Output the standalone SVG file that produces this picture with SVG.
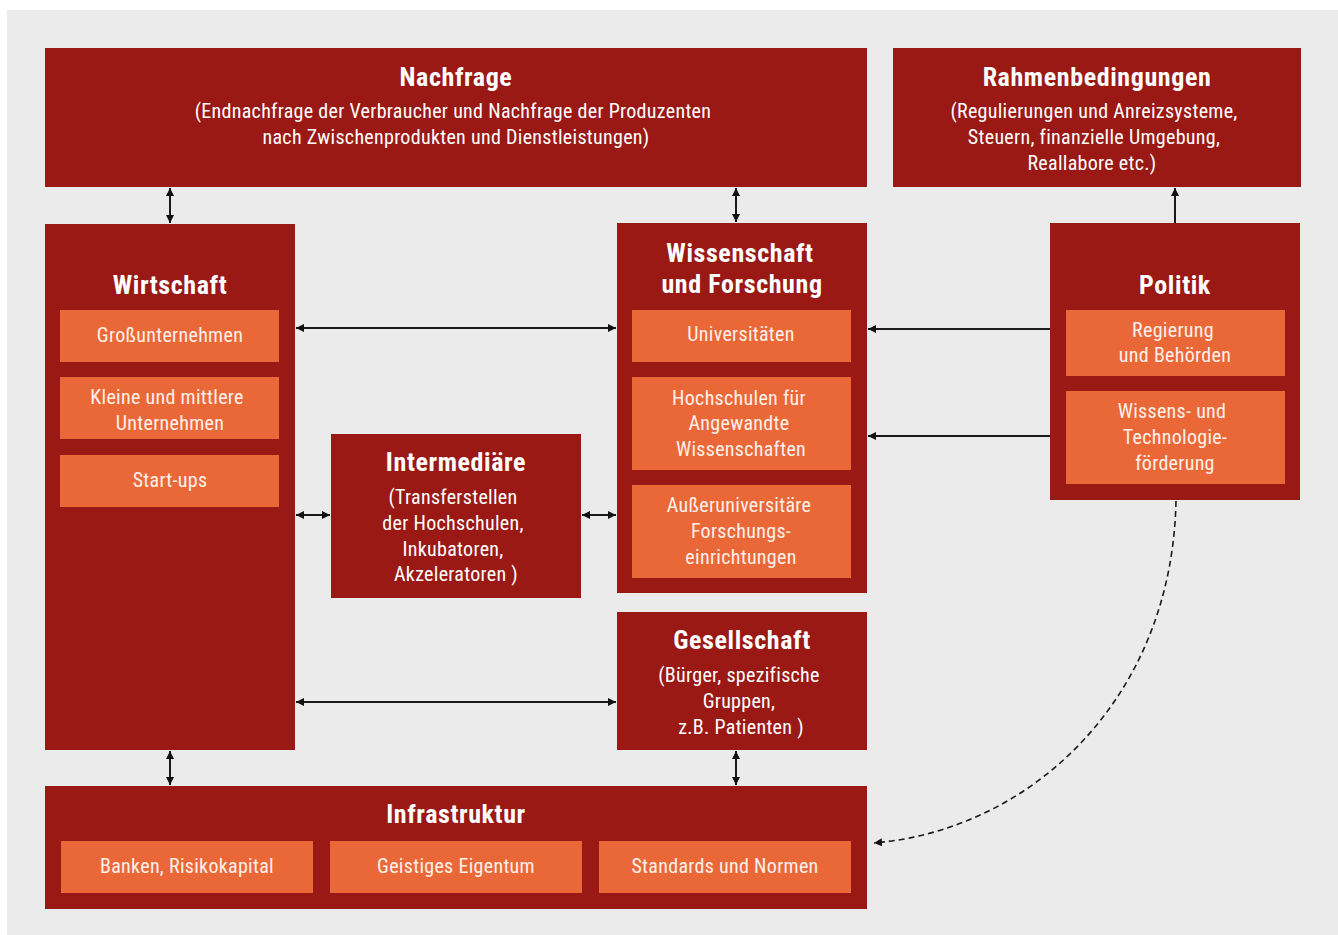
<svg xmlns="http://www.w3.org/2000/svg" width="1338" height="935" viewBox="0 0 1338 935">
<style>
.bg{fill:#ffffff}
.panel{fill:#ebebeb}
.main{fill:#9a1915}
.sub{fill:#ea6838}
text{font-family:"Liberation Sans Narrow","Roboto Condensed","Liberation Sans",sans-serif;text-anchor:middle;fill:#ffffff}
.t{font-size:26px;font-weight:bold;letter-spacing:0.6px}
.b{font-size:20px;letter-spacing:0.3px}
.s{font-size:20px;letter-spacing:0.3px;fill:#fdf0ea}
.ln{stroke:#1a1a1a;stroke-width:2;fill:none}
.dash{stroke:#1a1a1a;stroke-width:1.6;fill:none;stroke-dasharray:6 4}
</style>
<defs>
<marker id="ah" viewBox="0 0 10 10" refX="10" refY="5" markerWidth="8" markerHeight="8" markerUnits="userSpaceOnUse" orient="auto-start-reverse">
<path d="M0,0 L10,5 L0,10 Z" fill="#111"/>
</marker>
</defs>
<rect class="bg" x="0" y="0" width="1338" height="935"/>
<rect class="panel" x="7" y="10" width="1331" height="925"/>

<g id="nachfrage">
<rect class="main" x="45" y="48" width="822" height="139"/>
<text class="t" x="456" y="86">Nachfrage</text>
<text class="b" x="453" y="118">(Endnachfrage der Verbraucher und Nachfrage der Produzenten</text>
<text class="b" x="456" y="144">nach Zwischenprodukten und Dienstleistungen)</text>
</g>

<g id="rahmenbedingungen">
<rect class="main" x="893" y="48" width="408" height="139"/>
<text class="t" x="1097" y="86">Rahmenbedingungen</text>
<text class="b" x="1094" y="118">(Regulierungen und Anreizsysteme,</text>
<text class="b" x="1094" y="144">Steuern, finanzielle Umgebung,</text>
<text class="b" x="1092" y="170">Reallabore etc.)</text>
</g>

<g id="wirtschaft">
<rect class="main" x="45" y="224" width="250" height="526"/>
<text class="t" x="170" y="294">Wirtschaft</text>
<rect class="sub" x="60" y="310" width="219" height="52"/>
<text class="s" x="170" y="342">Großunternehmen</text>
<rect class="sub" x="60" y="377" width="219" height="62"/>
<text class="s" x="167" y="404">Kleine und mittlere</text>
<text class="s" x="170" y="430">Unternehmen</text>
<rect class="sub" x="60" y="455" width="219" height="52"/>
<text class="s" x="170" y="487">Start-ups</text>
</g>

<g id="wissenschaft">
<rect class="main" x="617" y="223" width="250" height="370"/>
<text class="t" x="740" y="262">Wissenschaft</text>
<text class="t" x="742" y="293">und Forschung</text>
<rect class="sub" x="632" y="310" width="219" height="52"/>
<text class="s" x="741" y="341">Universitäten</text>
<rect class="sub" x="632" y="377" width="219" height="93"/>
<text class="s" x="739" y="405">Hochschulen für</text>
<text class="s" x="739" y="430">Angewandte</text>
<text class="s" x="741" y="456">Wissenschaften</text>
<rect class="sub" x="632" y="485" width="219" height="93"/>
<text class="s" x="739" y="512">Außeruniversitäre</text>
<text class="s" x="741" y="538">Forschungs-</text>
<text class="s" x="741" y="564">einrichtungen</text>
</g>

<g id="politik">
<rect class="main" x="1050" y="223" width="250" height="277"/>
<text class="t" x="1175" y="294">Politik</text>
<rect class="sub" x="1066" y="310" width="219" height="66"/>
<text class="s" x="1173" y="337">Regierung</text>
<text class="s" x="1175" y="362">und Behörden</text>
<rect class="sub" x="1066" y="391" width="219" height="93"/>
<text class="s" x="1172" y="418">Wissens- und</text>
<text class="s" x="1175" y="444">Technologie-</text>
<text class="s" x="1175" y="470">förderung</text>
</g>

<g id="intermediaere">
<rect class="main" x="331" y="434" width="250" height="164"/>
<text class="t" x="456" y="471">Intermediäre</text>
<text class="b" x="453" y="504">(Transferstellen</text>
<text class="b" x="453" y="530">der Hochschulen,</text>
<text class="b" x="453" y="556">Inkubatoren,</text>
<text class="b" x="456" y="581">Akzeleratoren )</text>
</g>

<g id="gesellschaft">
<rect class="main" x="617" y="612" width="250" height="138"/>
<text class="t" x="742" y="649">Gesellschaft</text>
<text class="b" x="739" y="682">(Bürger, spezifische</text>
<text class="b" x="739" y="708">Gruppen,</text>
<text class="b" x="741" y="734">z.B. Patienten )</text>
</g>

<g id="infrastruktur">
<rect class="main" x="45" y="786" width="822" height="123"/>
<text class="t" x="456" y="823">Infrastruktur</text>
<rect class="sub" x="61" y="841" width="252" height="52"/>
<text class="s" x="187" y="873">Banken, Risikokapital</text>
<rect class="sub" x="330" y="841" width="252" height="52"/>
<text class="s" x="456" y="873">Geistiges Eigentum</text>
<rect class="sub" x="599" y="841" width="252" height="52"/>
<text class="s" x="725" y="873">Standards und Normen</text>
</g>

<g id="connectors">
<line class="ln" x1="170" y1="188" x2="170" y2="223" marker-start="url(#ah)" marker-end="url(#ah)"/>
<line class="ln" x1="736" y1="188" x2="736" y2="222" marker-start="url(#ah)" marker-end="url(#ah)"/>
<line class="ln" x1="1175" y1="223" x2="1175" y2="188" marker-end="url(#ah)"/>
<line class="ln" x1="296" y1="328" x2="616" y2="328" marker-start="url(#ah)" marker-end="url(#ah)"/>
<line class="ln" x1="1050" y1="329" x2="868" y2="329" marker-end="url(#ah)"/>
<line class="ln" x1="1050" y1="436" x2="868" y2="436" marker-end="url(#ah)"/>
<line class="ln" x1="296" y1="515" x2="330" y2="515" marker-start="url(#ah)" marker-end="url(#ah)"/>
<line class="ln" x1="582" y1="515" x2="616" y2="515" marker-start="url(#ah)" marker-end="url(#ah)"/>
<line class="ln" x1="296" y1="702" x2="616" y2="702" marker-start="url(#ah)" marker-end="url(#ah)"/>
<line class="ln" x1="170" y1="751" x2="170" y2="785" marker-start="url(#ah)" marker-end="url(#ah)"/>
<line class="ln" x1="736" y1="751" x2="736" y2="785" marker-start="url(#ah)" marker-end="url(#ah)"/>
<path class="dash" d="M1176,501 C1172,700 1030,830 874,843" marker-end="url(#ah)"/>
</g>
</svg>
